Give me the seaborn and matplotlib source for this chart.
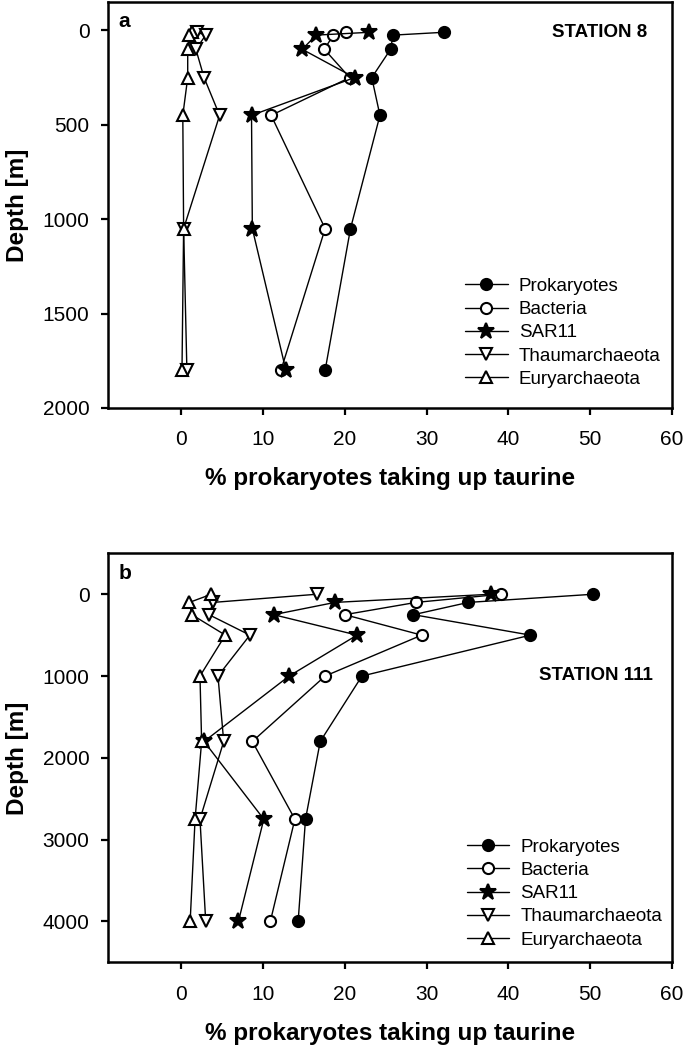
import numpy as np
import pandas as pd
import seaborn as sns
from matplotlib import pyplot as plt

# station 8
st8_depth = [10, 25, 100, 250, 450, 1050, 1800]
st8_prok = [32.1, 25.9, 25.6, 23.3, 24.3, 20.7, 17.6]
st8_bact = [20.1, 18.6, 17.5, 20.6, 11.0, 17.6, 12.2]
st8_sar11 = [23.0, 16.5, 14.8, 21.2, 8.6, 8.7, 12.8]
st8_thaum = [1.9, 3.0, 1.8, 2.8, 4.7, 0.3, 0.7]
st8_eury = [1.3, 1.0, 0.8, 0.8, 0.2, 0.3, 0.1]

# station 111
st111_depth = [0, 100, 250, 500, 1000, 1800, 2750, 4000]
st111_prok = [50.4, 35.1, 28.4, 42.7, 22.1, 17.0, 15.2, 14.3]
st111_bact = [39.1, 28.7, 20.0, 29.4, 17.6, 8.7, 13.9, 10.9]
st111_sar11 = [37.9, 18.8, 11.3, 21.5, 13.2, 2.8, 10.1, 7.0]
st111_thaum = [16.6, 3.9, 3.4, 8.4, 4.5, 5.2, 2.3, 3.0]
st111_eury = [3.7, 1.0, 1.3, 5.4, 2.3, 2.5, 1.7, 1.1]

groups = ['Prokaryotes', 'Bacteria', 'SAR11', 'Thaumarchaeota', 'Euryarchaeota']
styles = {
    'Prokaryotes': dict(marker='o', mfc='black', ms=8),
    'Bacteria': dict(marker='o', mfc='white', ms=8),
    'SAR11': dict(marker='*', mfc='black', ms=12),
    'Thaumarchaeota': dict(marker='v', mfc='white', ms=8.5),
    'Euryarchaeota': dict(marker='^', mfc='white', ms=8.5),
}

sns.set_style('ticks')
plt.rcParams['font.family'] = ['Liberation Sans', 'DejaVu Sans']
for key in ['text.color', 'axes.labelcolor', 'axes.edgecolor', 'xtick.color', 'ytick.color']:
    plt.rcParams[key] = 'black'


def make_frame(depth, series):
    rows = []
    for name, vals in zip(groups, series):
        for d, v in zip(depth, vals):
            rows.append({'group': name, 'depth': d, 'pct': v})
    return pd.DataFrame(rows)


def draw_panel(ax, df, ylim, yticks, letter, station, station_xy, leg_xy):
    for name in groups:
        sub = df[df['group'] == name]
        st = styles[name]
        sns.lineplot(data=sub, x='pct', y='depth', sort=False, estimator=None,
                     ax=ax, color='black', lw=1.0, marker=st['marker'],
                     markersize=st['ms'], markerfacecolor=st['mfc'],
                     markeredgecolor='black', markeredgewidth=1.5, label=name)
    ax.set_xlim(-9, 60)
    ax.set_ylim(*ylim)
    ax.set_xticks([0, 10, 20, 30, 40, 50, 60])
    ax.set_yticks(yticks)
    ax.tick_params(direction='out', length=5, width=1.6, labelsize=15, pad=8)
    ax.tick_params(axis='x', pad=11)
    for sp in ax.spines.values():
        sp.set_linewidth(1.8)
    ax.set_xlabel('% prokaryotes taking up taurine', fontsize=17.5, fontweight='bold', labelpad=13)
    ax.set_ylabel('Depth [m]', fontsize=17.5, fontweight='bold', labelpad=10)
    ax.text(0.019, 0.975, letter, transform=ax.transAxes, fontsize=15, fontweight='bold',
            va='top', ha='left')
    ax.text(station_xy[0], station_xy[1], station, transform=ax.transAxes, fontsize=13.5,
            fontweight='bold', va='center', ha='right')
    ax.legend(loc='center left', bbox_to_anchor=leg_xy, frameon=False,
              fontsize=13.5, handlelength=2.25, handletextpad=0.6, labelspacing=0.33,
              borderpad=0, borderaxespad=0)


fig = plt.figure(figsize=(6.85, 10.46), dpi=100)
ax1 = fig.add_axes([0.157, 0.610, 0.824, 0.388])
ax2 = fig.add_axes([0.157, 0.080, 0.824, 0.391])

df8 = make_frame(st8_depth, [st8_prok, st8_bact, st8_sar11, st8_thaum, st8_eury])
df111 = make_frame(st111_depth, [st111_prok, st111_bact, st111_sar11, st111_thaum, st111_eury])

draw_panel(ax1, df8, (2000, -150), [0, 500, 1000, 1500, 2000], 'a', 'STATION 8',
           (0.957, 0.924), (0.634, 0.185))
draw_panel(ax2, df111, (4500, -500), [0, 1000, 2000, 3000, 4000], 'b', 'STATION 111',
           (0.967, 0.702), (0.637, 0.168))

fig.savefig('out.png', dpi=100)
